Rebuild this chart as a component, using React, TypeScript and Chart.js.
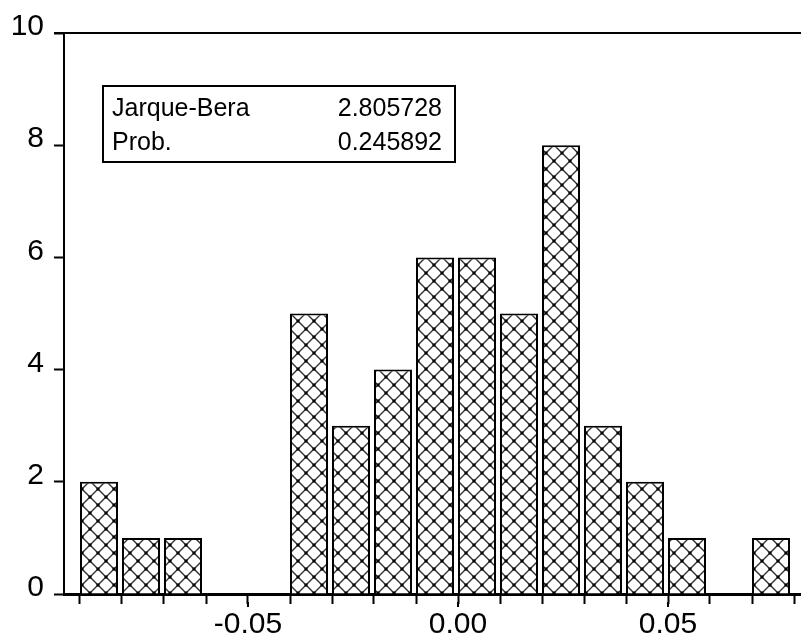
import React, { useEffect, useRef } from "react";
import { Chart, registerables } from "chart.js";

Chart.register(...registerables);

// ---- data ----
const binStarts = [
  -0.09, -0.08, -0.07, -0.06, -0.05, -0.04, -0.03, -0.02, -0.01,
  0.0, 0.01, 0.02, 0.03, 0.04, 0.05, 0.06, 0.07,
];
const counts = [2, 1, 1, 0, 0, 5, 3, 4, 6, 6, 5, 8, 3, 2, 1, 0, 1];
const binWidth = 0.01;
const yMin = 0;
const yMax = 10;
const yStep = 2;
const labelEvery = 0.05;
const statLabels = ["Jarque-Bera", "Prob."];
const statValues = ["2.805728", "0.245892"];

// ---- layout ----
const CANVAS_W = 812;
const CANVAS_H = 641;
const PLOT_LEFT = 64;
const PLOT_TOP = 33;
const PLOT_BOTTOM = 594;
const PX_PER_BIN = 42;
const FIRST_EDGE_PX = 80;
const BAR_FILL = 38 / 42;
const FONT = '"Liberation Sans", Arial, Helvetica, sans-serif';

const unitPerPx = binWidth / PX_PER_BIN;
const xMin = binStarts[0] - (FIRST_EDGE_PX - PLOT_LEFT) * unitPerPx;
const xMax = xMin + (CANVAS_W - PLOT_LEFT) * unitPerPx;

function isMajor(v: number): boolean {
  const k = Math.round(v / binWidth);
  const m = Math.round(labelEvery / binWidth);
  return k % m === 0;
}

function makeHatch(ctx: CanvasRenderingContext2D): CanvasPattern | string {
  const s = 16;
  const c = document.createElement("canvas");
  c.width = s;
  c.height = s;
  const g = c.getContext("2d");
  if (!g) return "#fff";
  g.fillStyle = "#fff";
  g.fillRect(0, 0, s, s);
  g.strokeStyle = "#333";
  g.lineWidth = 1.4;
  g.beginPath();
  g.moveTo(0, 0);
  g.lineTo(s, s);
  g.moveTo(s, 0);
  g.lineTo(0, s);
  g.stroke();
  g.fillStyle = "#000";
  const d = 3;
  const pts = [
    [0, 0],
    [s, 0],
    [0, s],
    [s, s],
    [s / 2, s / 2],
  ];
  pts.forEach(([x, y]) => g.fillRect(x - d / 2, y - d / 2, d, d));
  const p = ctx.createPattern(c, "repeat");
  if (!p) return "#fff";
  try {
    p.setTransform(new DOMMatrix().translate(2, 9));
  } catch (e) {
    /* ignore */
  }
  return p;
}

const frameTop = {
  id: "frameTop",
  afterDraw(chart: any) {
    const { ctx, chartArea } = chart;
    ctx.save();
    ctx.strokeStyle = "#000";
    ctx.lineWidth = 2;
    ctx.beginPath();
    ctx.moveTo(chartArea.left - 10, chartArea.top);
    ctx.lineTo(chartArea.right, chartArea.top);
    ctx.stroke();
    // longer marks at labelled x ticks
    const xs = chart.scales.x;
    ctx.lineWidth = 2;
    xs.ticks.forEach((t: any) => {
      if (!isMajor(t.value)) return;
      const px = Math.round(xs.getPixelForValue(t.value));
      ctx.beginPath();
      ctx.moveTo(px, chartArea.bottom + 8);
      ctx.lineTo(px, chartArea.bottom + 13);
      ctx.stroke();
    });
    ctx.restore();
  },
};

const statsBox = {
  id: "statsBox",
  afterDraw(chart: any) {
    const { ctx, chartArea } = chart;
    const x = chartArea.left + 39;
    const y = chartArea.top + 53;
    const w = 352;
    const h = 76;
    ctx.save();
    ctx.fillStyle = "#fff";
    ctx.fillRect(x, y, w, h);
    ctx.lineWidth = 2;
    ctx.strokeStyle = "#000";
    ctx.strokeRect(x, y, w, h);
    ctx.font = `25px ${FONT}`;
    ctx.fillStyle = "#000";
    ctx.textBaseline = "alphabetic";
    statLabels.forEach((lab, i) => {
      const by = y + 30 + i * 34;
      ctx.textAlign = "left";
      ctx.fillText(lab, x + 9, by);
      ctx.textAlign = "right";
      ctx.fillText(statValues[i], x + 339, by);
    });
    ctx.restore();
  },
};

export default function App() {
  const ref = useRef<HTMLCanvasElement | null>(null);

  useEffect(() => {
    const canvas = ref.current;
    if (!canvas) return;
    const ctx = canvas.getContext("2d");
    if (!ctx) return;
    const hatch = makeHatch(ctx);

    const chart = new Chart(ctx, {
      type: "bar",
      data: {
        datasets: [
          {
            data: binStarts.map((s, i) => ({
              x: s + (binWidth * BAR_FILL) / 2,
              y: counts[i],
            })),
            backgroundColor: hatch as any,
            borderColor: "#000",
            borderWidth: 2,
            barPercentage: BAR_FILL,
            categoryPercentage: 1,
          } as any,
        ],
      },
      options: {
        animation: false,
        responsive: false,
        devicePixelRatio: 1,
        events: [],
        layout: { padding: { top: PLOT_TOP, left: 0, right: 0, bottom: 0 } },
        plugins: {
          legend: { display: false },
          tooltip: { enabled: false },
        },
        scales: {
          x: {
            type: "linear",
            min: xMin,
            max: xMax,
            offset: false,
            ticks: {
              stepSize: binWidth,
              autoSkip: false,
              maxRotation: 0,
              minRotation: 0,
              includeBounds: false,
              padding: 3,
              color: "#000",
              font: { family: FONT, size: 30 },
              callback: (v: any) =>
                isMajor(Number(v))
                  ? (Math.round(Number(v) / binWidth) * binWidth).toFixed(2)
                  : "",
            },
            grid: {
              drawOnChartArea: false,
              offset: false,
              drawTicks: true,
              tickLength: 10,
              tickWidth: 2,
              tickColor: "#000",
            },
            border: { display: true, color: "#000", width: 3 },
            afterFit: (s: any) => {
              s.height = CANVAS_H - PLOT_BOTTOM;
            },
          } as any,
          y: {
            min: yMin,
            max: yMax,
            ticks: {
              stepSize: yStep,
              padding: 10,
              labelOffset: -6,
              color: "#000",
              font: { family: FONT, size: 30 },
            },
            grid: {
              drawOnChartArea: false,
              drawTicks: true,
              tickLength: 10,
              tickWidth: 2,
              tickColor: "#000",
            },
            border: { display: true, color: "#000", width: 2 },
            afterFit: (s: any) => {
              s.width = PLOT_LEFT;
            },
          } as any,
        },
      },
      plugins: [frameTop, statsBox],
    });

    return () => chart.destroy();
  }, []);

  return (
    <div
      style={{
        position: "fixed",
        left: 0,
        top: 0,
        width: 801,
        height: 641,
        overflow: "hidden",
        background: "#fff",
      }}
    >
      <canvas
        ref={ref}
        width={CANVAS_W}
        height={CANVAS_H}
        style={{ width: CANVAS_W, height: CANVAS_H, display: "block" }}
      />
    </div>
  );
}
